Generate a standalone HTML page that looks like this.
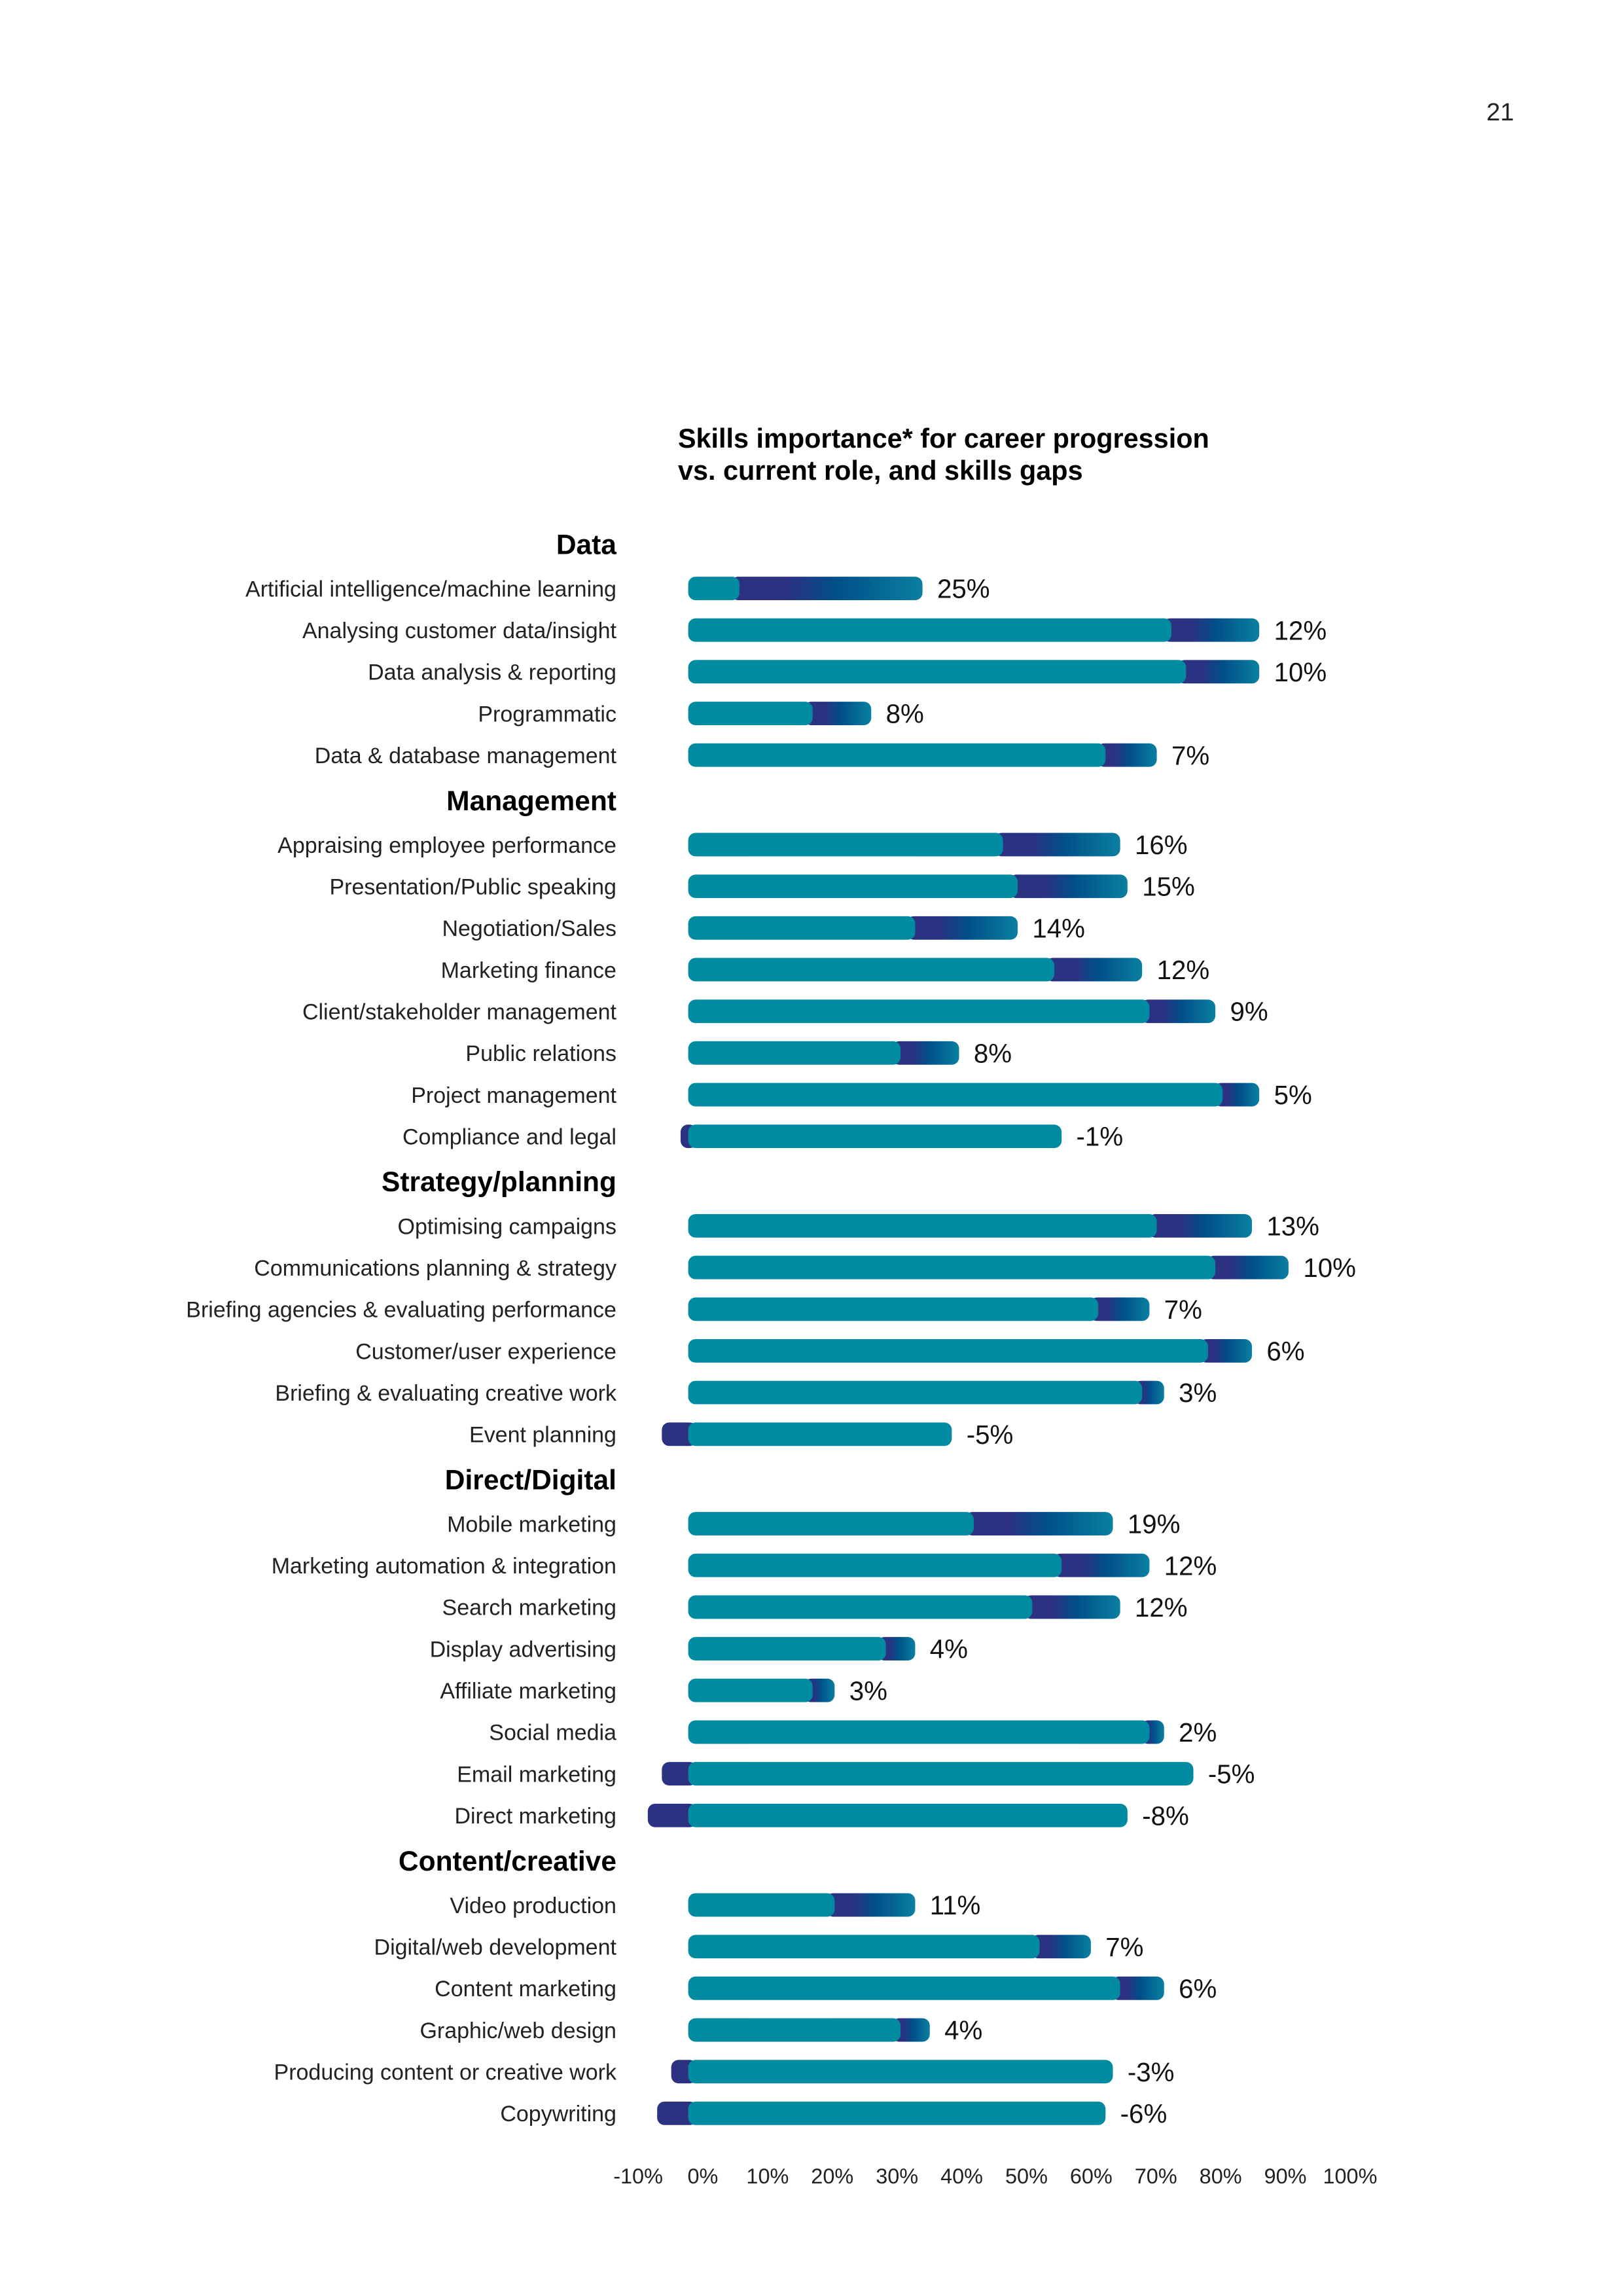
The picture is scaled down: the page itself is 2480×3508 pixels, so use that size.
<!DOCTYPE html>
<html><head><meta charset="utf-8"><style>
html,body{margin:0;padding:0;background:#fff;}
svg{display:block;font-family:"Liberation Sans",sans-serif;}
</style></head><body>
<svg id="chart" width="2480" height="3508" viewBox="0 0 1108.4 1564.7" preserveAspectRatio="none" xmlns="http://www.w3.org/2000/svg">
<defs>
<linearGradient id="gapGrad" x1="0" y1="0" x2="1" y2="0">
<stop offset="0" stop-color="#2b3282"/>
<stop offset="0.3" stop-color="#2b3282"/>
<stop offset="0.55" stop-color="#004f8a"/>
<stop offset="1" stop-color="#0a80a0"/>
</linearGradient>
</defs>
<text x="1034" y="82" font-size="17" text-anchor="end" fill="#222">21</text>
<text x="463" y="305" font-size="18.5" font-weight="bold" fill="#000">Skills importance* for career progression</text>
<text x="463" y="327" font-size="18.5" font-weight="bold" fill="#000">vs. current role, and skills gaps</text>
<g id="rows"></g>
<g id="axis"></g>
</svg>
<script>
// Data
const categories = ["Data","Management","Strategy/planning","Direct/Digital","Content/creative"];
const skills = [
"Artificial intelligence/machine learning","Analysing customer data/insight","Data analysis & reporting","Programmatic","Data & database management",
"Appraising employee performance","Presentation/Public speaking","Negotiation/Sales","Marketing finance","Client/stakeholder management","Public relations","Project management","Compliance and legal",
"Optimising campaigns","Communications planning & strategy","Briefing agencies & evaluating performance","Customer/user experience","Briefing & evaluating creative work","Event planning",
"Mobile marketing","Marketing automation & integration","Search marketing","Display advertising","Affiliate marketing","Social media","Email marketing","Direct marketing",
"Video production","Digital/web development","Content marketing","Graphic/web design","Producing content or creative work","Copywriting"];
const skillCategory = [0,0,0,0,0, 1,1,1,1,1,1,1,1, 2,2,2,2,2,2, 3,3,3,3,3,3,3,3, 4,4,4,4,4,4];
const currentRole = [7,66,68,17,57, 43,45,31,50,63,29,73,51, 64,72,56,71,62,36, 39,51,47,27,17,63,69,60, 20,48,59,29,58,57];
const careerProgression = [32,78,78,25,64, 59,60,45,62,72,37,78,50, 77,82,63,77,65,31, 58,63,59,31,20,65,64,52, 31,55,65,33,55,51];
const tickLabels = ["-10%","0%","10%","20%","30%","40%","50%","60%","70%","80%","90%","100%"];
const tickValues = [-10,0,10,20,30,40,50,60,70,80,90,100];

// Layout (preview units)
const x0 = 470, pxPer = 5;
function xScale(v){ return x0 + v*pxPer; }
function negScale(v){ return x0 + v*3.2 - 2; }
function tickX(v){ return 480 + v*4.42; }
const barH = 16;
const NS = "http://www.w3.org/2000/svg";
const rows = document.getElementById('rows');
const axis = document.getElementById('axis');
function mk(tag, attrs, parent){
  const e = document.createElementNS(NS, tag);
  for (const k in attrs) e.setAttribute(k, attrs[k]);
  parent.appendChild(e); return e;
}
let y = 371, lastCat = -1;
for (let i = 0; i < skills.length; i++) {
  if (skillCategory[i] !== lastCat) {
    lastCat = skillCategory[i];
    if (i > 0) y += 31;
    const h = mk('text', {x:421, y:y+6.5, 'font-size':19, 'font-weight':'bold', 'text-anchor':'end', fill:'#000'}, rows);
    
    
    h.textContent = categories[lastCat];
    y += 30;
  } else {
    y += 28.4;
  }
  const g = mk('g', {}, rows);
  
  
  const lab = mk('text', {x:421, y:y+5.5, 'font-size':15.2, 'text-anchor':'end', fill:'#222'}, g);
  
  
  lab.textContent = skills[i];
  const c = currentRole[i], p = careerProgression[i], gap = p - c;
  const top = y - barH/2;
  let endX;
  if (gap >= 0) {
    const gb = mk('rect', {x:xScale(c)-6, y:top, width:xScale(p)-xScale(c)+6, height:barH, rx:5, fill:'url(#gapGrad)'}, g);
    
    
    endX = xScale(p);
  } else {
    const dx = negScale(gap);
    const nb = mk('rect', {x:dx, y:top, width:x0+6-dx, height:barH, rx:5, fill:'#2b3282'}, g);
    
    
    endX = xScale(c);
  }
  const cb = mk('rect', {x:x0, y:top, width:xScale(c)-x0, height:barH, rx:5, fill:'#008ba0'}, g);
  
  
  const vl = mk('text', {x:endX+10, y:y+6.5, 'font-size':18, fill:'#111'}, g);
  
  
  vl.textContent = gap + '%';
}
for (let t = 0; t < tickLabels.length; t++) {
  const tl = mk('text', {x:tickX(tickValues[t]), y:1488, 'font-size':14.5, 'text-anchor':'middle', fill:'#222'}, axis);
  
  
  tl.textContent = tickLabels[t];
}
</script>
</body></html>
